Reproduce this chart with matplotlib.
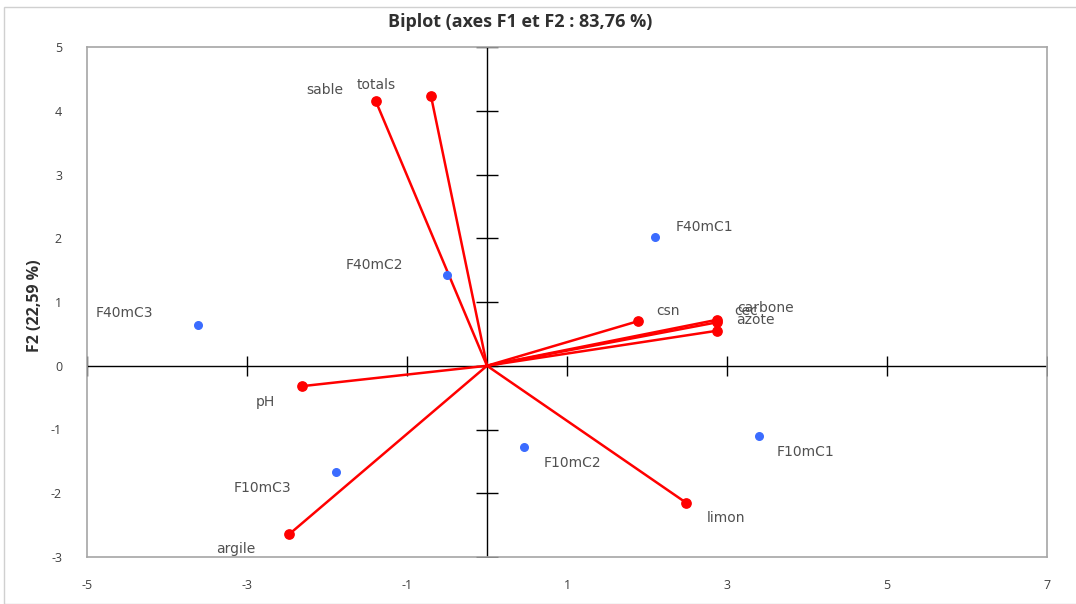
import matplotlib
matplotlib.use("Agg")
import matplotlib.pyplot as plt
from matplotlib.patches import Rectangle

plt.rcParams['font.family'] = ['Open Sans', 'DejaVu Sans']
plt.rcParams['axes.unicode_minus'] = False

# variables (red vectors)
var_names = ['sable', 'totals', 'csn', 'carbone', 'cec', 'azote', 'pH', 'argile', 'limon']
var_x = [-1.39, -0.70, 1.89, 2.87, 2.87, 2.88, -2.31, -2.47, 2.49]
var_y = [4.15, 4.23, 0.70, 0.72, 0.68, 0.55, -0.32, -2.64, -2.15]
# label offsets in pixels (dx, dy)
var_off = [(-51, 11), (-55, 11), (30, 10), (49, 12), (30, 11), (38, 11), (-37, -16), (-54, -15), (40, -15)]

# observations (blue points)
obs_names = ['F40mC1', 'F40mC2', 'F40mC3', 'F10mC1', 'F10mC2', 'F10mC3']
obs_x = [2.10, -0.50, -3.61, 3.40, 0.46, -1.89]
obs_y = [2.02, 1.42, 0.64, -1.10, -1.28, -1.67]
obs_off = [(49, 10), (-73, 10), (-74, 12), (47, -16), (49, -16), (-73, -16)]

x_ticks = [-5, -3, -1, 1, 3, 5, 7]
y_ticks = [-3, -2, -1, 0, 1, 2, 3, 4, 5]

fig = plt.figure(figsize=(10.76, 6.04), dpi=100)
ax = fig.add_axes([87 / 1076, 1 - 557 / 604, 960 / 1076, 510 / 604])
fig.patches.append(Rectangle((4 / 1076, 0), 1.2, 1 - 7 / 604, transform=fig.transFigure,
                             fill=False, edgecolor='#d0d0d0', linewidth=1))

ax.set_xlim(-5, 7)
ax.set_ylim(-3, 5)
ax.set_xticks(x_ticks)
ax.set_yticks(y_ticks)
ax.tick_params(length=0, labelsize=9, colors='#404040')
ax.tick_params(axis='x', pad=16)
ax.tick_params(axis='y', pad=18)
for s in ax.spines.values():
    s.set_color('#a6a6a6')
    s.set_linewidth(1.2)

# central axes with crossing ticks
ax.axhline(0, color='black', linewidth=1, zorder=1)
ax.axvline(0, color='black', linewidth=1, zorder=1)
ax.plot(x_ticks, [0] * len(x_ticks), linestyle='none', marker='|', markersize=14,
        markeredgewidth=1, color='black', zorder=1)
ax.plot([0] * len(y_ticks), y_ticks, linestyle='none', marker='_', markersize=16,
        markeredgewidth=1, color='black', zorder=1)

for x, y in zip(var_x, var_y):
    ax.plot([0, x], [0, y], color='red', linewidth=1.8, zorder=2)
ax.scatter(var_x, var_y, s=45, color='red', zorder=3)
ax.scatter(obs_x, obs_y, s=30, color='#3b6cff', zorder=3)

for name, x, y, (dx, dy) in zip(var_names, var_x, var_y, var_off):
    ax.annotate(name, (x, y), xytext=(dx, dy), textcoords='offset pixels',
                ha='center', va='center', fontsize=10, color='#505050', family='DejaVu Sans')
for name, x, y, (dx, dy) in zip(obs_names, obs_x, obs_y, obs_off):
    ax.annotate(name, (x, y), xytext=(dx, dy), textcoords='offset pixels',
                ha='center', va='center', fontsize=10, color='#505050', family='DejaVu Sans')

fig.text(520 / 1076, 1 - 22 / 604, 'Biplot (axes F1 et F2 : 83,76 %)', ha='center', va='center',
         fontsize=13, fontweight='bold', color='#303030')
fig.text(35 / 1076, 1 - 306 / 604, 'F2 (22,59 %)', rotation=90, ha='center', va='center',
         fontsize=11.5, fontweight='bold', color='#303030')

fig.savefig('out.png', dpi=100)
